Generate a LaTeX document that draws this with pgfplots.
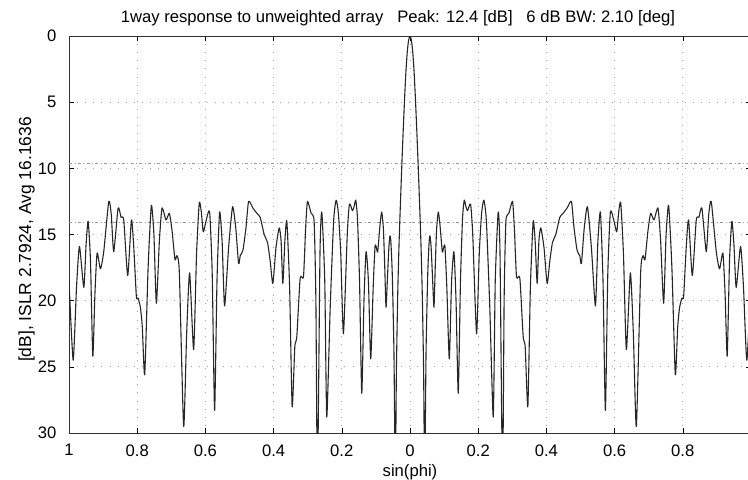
\documentclass[border=0pt]{standalone}
\usepackage{fontspec}
\setmainfont{Liberation Sans}
\usepackage{pgfplots}
\pgfplotsset{compat=1.18}

\pgfplotstableread{
x y
-1.0000 18.5
-0.9878 24.5
-0.9780 19.0
-0.9693 15.9
-0.9566 19.0
-0.9500 15.8
-0.9439 14.0
-0.9370 17.0
-0.9302 24.2
-0.9240 19.5
-0.9176 16.4
-0.9078 17.6
-0.8981 16.3
-0.8834 12.5
-0.8760 13.5
-0.8688 16.3
-0.8560 13.0
-0.8473 13.7
-0.8395 13.9
-0.8278 18.1
-0.8170 13.9
-0.8102 15.9
-0.8024 19.7
-0.7975 19.8
-0.7907 20.5
-0.7850 22.0
-0.7780 25.6
-0.7680 17.5
-0.7585 12.8
-0.7510 15.0
-0.7438 20.2
-0.7350 15.5
-0.7272 13.0
-0.7155 13.9
-0.7057 13.4
-0.6979 14.7
-0.6891 16.9
-0.6833 16.6
-0.6764 17.9
-0.6638 29.5
-0.6550 22.5
-0.6462 17.9
-0.6345 23.7
-0.6260 16.5
-0.6180 12.6
-0.6120 13.3
-0.6062 14.8
-0.5974 13.9
-0.5876 13.3
-0.5800 18.0
-0.5730 28.3
-0.5660 18.5
-0.5584 13.3
-0.5510 15.5
-0.5437 20.4
-0.5320 16.0
-0.5203 12.9
-0.5110 14.5
-0.5027 17.2
-0.4978 16.6
-0.4900 16.2
-0.4810 14.5
-0.4734 12.5
-0.4607 13.0
-0.4490 13.4
-0.4393 13.7
-0.4276 15.0
-0.4178 15.6
-0.4100 17.0
-0.4022 18.7
-0.3930 16.0
-0.3836 14.5
-0.3780 15.5
-0.3729 18.7
-0.3670 15.5
-0.3612 14.0
-0.3530 19.0
-0.3456 28.0
-0.3378 23.5
-0.3319 22.7
-0.3221 18.3
-0.3124 18.2
-0.3060 14.5
-0.3007 12.5
-0.2900 13.4
-0.2812 14.0
-0.2760 20.0
-0.2714 34.0
-0.2640 16.5
-0.2587 13.3
-0.2500 18.5
-0.2441 28.8
-0.2340 20.5
-0.2240 14.0
-0.2167 12.4
-0.2100 13.4
-0.2030 16.5
-0.1952 22.5
-0.1840 15.0
-0.1776 12.7
-0.1689 13.2
-0.1640 12.9
-0.1591 12.4
-0.1540 13.8
-0.1480 18.5
-0.1415 27.0
-0.1350 20.0
-0.1288 16.3
-0.1220 18.5
-0.1152 24.4
-0.1080 19.0
-0.1025 15.9
-0.0985 16.0
-0.0947 16.3
-0.0880 14.3
-0.0830 13.3
-0.0780 14.6
-0.0740 17.5
-0.0703 20.5
-0.0660 18.2
-0.0620 16.0
-0.0586 15.1
-0.0560 15.6
-0.0520 18.0
-0.0470 24.0
-0.0430 34.0
-0.0400 25.5
-0.0360 19.5
-0.0320 15.6
-0.0280 12.6
-0.0240 9.8
-0.0200 7.2
-0.0160 4.8
-0.0120 2.7
-0.0080 1.2
-0.0040 0.3
0.0000 0.0
0.0040 0.3
0.0080 1.2
0.0120 2.7
0.0160 4.8
0.0200 7.2
0.0240 9.8
0.0280 12.6
0.0320 15.6
0.0360 19.5
0.0400 25.5
0.0430 34.0
0.0470 24.0
0.0520 18.0
0.0560 15.6
0.0586 15.1
0.0620 16.0
0.0660 18.2
0.0703 20.5
0.0740 17.5
0.0780 14.6
0.0830 13.3
0.0880 14.3
0.0947 16.3
0.0985 16.0
0.1025 15.9
0.1080 19.0
0.1152 24.4
0.1220 18.5
0.1288 16.3
0.1350 20.0
0.1415 27.0
0.1480 18.5
0.1540 13.8
0.1591 12.4
0.1640 12.9
0.1689 13.2
0.1776 12.7
0.1840 15.0
0.1952 22.5
0.2030 16.5
0.2100 13.4
0.2167 12.4
0.2240 14.0
0.2340 20.5
0.2441 28.8
0.2500 18.5
0.2587 13.3
0.2640 16.5
0.2714 34.0
0.2760 20.0
0.2812 14.0
0.2900 13.4
0.3007 12.5
0.3060 14.5
0.3124 18.2
0.3221 18.3
0.3319 22.7
0.3378 23.5
0.3456 28.0
0.3530 19.0
0.3612 14.0
0.3670 15.5
0.3729 18.7
0.3780 15.5
0.3836 14.5
0.3930 16.0
0.4022 18.7
0.4100 17.0
0.4178 15.6
0.4276 15.0
0.4393 13.7
0.4490 13.4
0.4607 13.0
0.4734 12.5
0.4810 14.5
0.4900 16.2
0.4978 16.6
0.5027 17.2
0.5110 14.5
0.5203 12.9
0.5320 16.0
0.5437 20.4
0.5510 15.5
0.5584 13.3
0.5660 18.5
0.5730 28.3
0.5800 18.0
0.5876 13.3
0.5974 13.9
0.6062 14.8
0.6120 13.3
0.6180 12.6
0.6260 16.5
0.6345 23.7
0.6462 17.9
0.6550 22.5
0.6638 29.5
0.6764 17.9
0.6833 16.6
0.6891 16.9
0.6979 14.7
0.7057 13.4
0.7155 13.9
0.7272 13.0
0.7350 15.5
0.7438 20.2
0.7510 15.0
0.7585 12.8
0.7680 17.5
0.7780 25.6
0.7850 22.0
0.7907 20.5
0.7975 19.8
0.8024 19.7
0.8102 15.9
0.8170 13.9
0.8278 18.1
0.8395 13.9
0.8473 13.7
0.8560 13.0
0.8688 16.3
0.8760 13.5
0.8834 12.5
0.8981 16.3
0.9078 17.6
0.9176 16.4
0.9240 19.5
0.9302 24.2
0.9370 17.0
0.9439 14.0
0.9500 15.8
0.9566 19.0
0.9693 15.9
0.9780 19.0
0.9878 24.5
1.0000 18.5
}\resp

\begin{document}
\begin{tikzpicture}
\begin{axis}[
  scale only axis,
  width=682bp, height=397bp,
  xmin=-1, xmax=1,
  ymin=0, ymax=30,
  y dir=reverse,
  xtick={-1,-0.8,-0.6,-0.4,-0.2,0,0.2,0.4,0.6,0.8,1},
  xticklabels={1,0.8,0.6,0.4,0.2,0,0.2,0.4,0.6,0.8,{}},
  ytick={0,5,10,15,20,25,30},
  tick align=inside,
  major tick length=5bp,
  tick style={black, line width=0.6bp},
  axis line style={black!80, line width=0.8bp},
  grid=major,
  major grid style={gray!75, line width=0.7bp, dash pattern=on 0.9bp off 7.2bp},
  /pgf/number format/assume math mode=true,
  tick label style={font=\fontsize{16.7}{18}\selectfont},
  yticklabel style={xshift=-9bp},
  xticklabel style={yshift=-8bp},
  xlabel={sin(phi)},
  xlabel style={font=\fontsize{16.7}{18}\selectfont, at={(0.5,0)}, anchor=base, yshift=-43bp},
  ylabel={[dB], ISLR 2.7924, Avg 16.1636},
  ylabel style={font=\fontsize{17.5}{19}\selectfont, at={(0,0.5)}, anchor=base, yshift=38bp, xshift=-5bp},
  title={1way response to unweighted array\ \ \ Peak: 12.4 [dB]\ \ \ 6 dB BW: 2.10 [deg]},
  title style={font=\fontsize{16.7}{18}\selectfont, at={(0.5,1)}, anchor=base, yshift=8bp, xshift=-12bp},
]
\addplot[gray!80, line width=0.7bp, dash pattern=on 3bp off 2.5bp on 0.8bp off 2.5bp, forget plot] coordinates {(-1,9.6) (1,9.6)};
\addplot[gray!80, line width=0.7bp, dash pattern=on 3bp off 2.5bp on 0.8bp off 2.5bp, forget plot] coordinates {(-1,14.1) (1,14.1)};
\addplot[black!85, line width=1.1bp, line join=round, smooth, tension=0.35] table[x=x, y=y] {\resp};
\coordinate (SW) at (axis cs:-1,30);
\end{axis}
\pgfresetboundingbox
\path[use as bounding box] ([xshift=-69bp, yshift=-47bp]SW) rectangle ++(748bp,480bp);
\end{tikzpicture}
\end{document}
